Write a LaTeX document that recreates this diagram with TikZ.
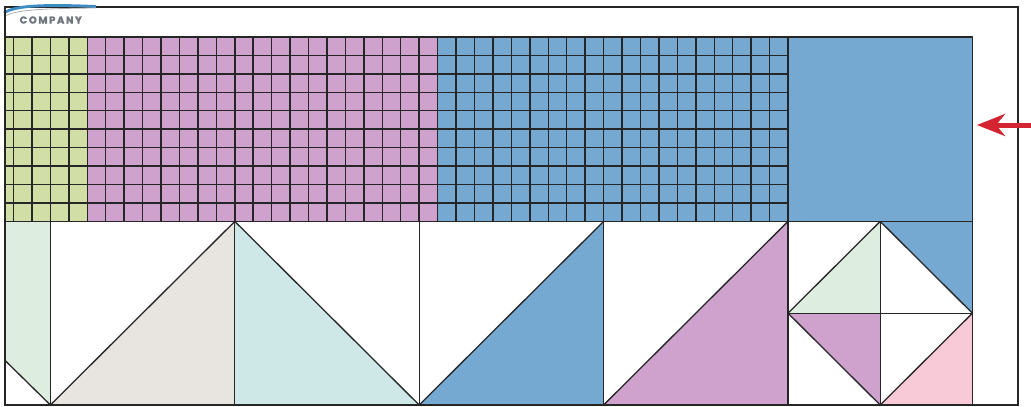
\documentclass[tikz,border=0pt]{standalone}
\usepackage{fontspec}
\newfontfamily\logofont{Poppins}[LetterSpace=16, FakeBold=1.2]
\usetikzlibrary{arrows.meta}
\definecolor{gridgreen}{HTML}{D1DFA6}
\definecolor{quiltpurple}{HTML}{CEA2CC}
\definecolor{quiltblue}{HTML}{75A9D1}
\definecolor{palegreen}{HTML}{DDEEE0}
\definecolor{beige}{HTML}{E8E4DF}
\definecolor{palecyan}{HTML}{CEE8E8}
\definecolor{quiltpink}{HTML}{F8C9D6}
\definecolor{inkline}{HTML}{262626}
\definecolor{logogray}{HTML}{6F767E}
\definecolor{logoblue}{HTML}{3D8CC4}
\definecolor{arrowred}{HTML}{D42331}
\tikzset{
  gridline/.style={draw=inkline, line width=1.45pt},
  edge/.style={draw=inkline, line width=1.3pt, line join=round},
  frameline/.style={draw=inkline, line width=1.4pt},
  pointer/.style={draw=arrowred, line width=5pt, -{Stealth[length=28pt,width=22pt,inset=9pt]}}
}
\begin{document}
\begin{tikzpicture}[x=1pt,y=-1pt]
\useasboundingbox (0,0) rectangle (1031,407);
\fill[white] (0,0) rectangle (1031,407);
% outer frame
\draw[frameline] (5,7) rectangle (1018,405);
% logo swoosh
\draw[logoblue, line width=2.8pt] (4,13) .. controls (14,6) and (40,4) .. (96,6.5);
\draw[logogray!60, line width=0.8pt] (5,16) .. controls (16,10) and (40,8.5) .. (96,8);
\node[anchor=west, inner sep=0pt, text=logogray, font=\logofont\bfseries\fontsize{10}{10}\selectfont] (logo) at (19.5,20) {COMPANY};
% top band fills
\fill[gridgreen] (5,37) rectangle (87.3,221.4);
\fill[quiltpurple] (87.3,37) rectangle (437,221.4);
\fill[quiltblue] (437,37) rectangle (972.4,221.4);
% grid lines
\foreach \k in {0,...,42} {
  \draw[gridline] ({13.5+\k*18.44},37) -- ({13.5+\k*18.44},221.4);
}
\foreach \j in {0,...,10} {
  \draw[gridline] (5,{37+\j*18.44}) -- (788,{37+\j*18.44});
}
\draw[edge] (788,37) rectangle (972.4,221.4);
% bottom row fills
\fill[palegreen] (5,221.4) -- (50.4,221.4) -- (50.4,405) -- (5,360.4) -- cycle;
\fill[beige] (50.4,405) -- (234.8,221.4) -- (234.8,405) -- cycle;
\fill[palecyan] (234.8,221.4) -- (419.2,405) -- (234.8,405) -- cycle;
\fill[quiltblue] (419.2,405) -- (603.6,221.4) -- (603.6,405) -- cycle;
\fill[quiltpurple] (603.6,405) -- (788,221.4) -- (788,405) -- cycle;
\fill[palegreen] (788,313.2) -- (880.2,221.4) -- (880.2,313.2) -- cycle;
\fill[quiltblue] (880.2,221.4) -- (972.4,221.4) -- (972.4,313.2) -- cycle;
\fill[quiltpurple] (788,313.2) -- (880.2,313.2) -- (880.2,405) -- cycle;
\fill[quiltpink] (880.2,405) -- (972.4,313.2) -- (972.4,405) -- cycle;
% bottom row lines
\draw[edge] (5,221.4) -- (972.4,221.4);
\draw[edge] (972.4,221.4) -- (972.4,405);
\foreach \x in {50.4,234.8,419.2,603.6,788,880.2} {
  \draw[edge] (\x,221.4) -- (\x,405);
}
\draw[edge] (5,360.4) -- (50.4,405) -- (234.8,221.4) -- (419.2,405) -- (603.6,221.4);
\draw[edge] (603.6,405) -- (788,221.4);
\draw[edge] (880.2,221.4) -- (788,313.2) -- (880.2,405) -- (972.4,313.2) -- cycle;
\draw[edge] (788,313.2) -- (972.4,313.2);
\draw[frameline] (5,7) -- (5,405) -- (1018,405) -- (1018,7) -- (96,7);
% red arrow
\coordinate (arrowstart) at (1031,125);
\coordinate (arrowtip) at (977,125);
\draw[pointer] (arrowstart) -- (arrowtip);
\end{tikzpicture}
\end{document}
